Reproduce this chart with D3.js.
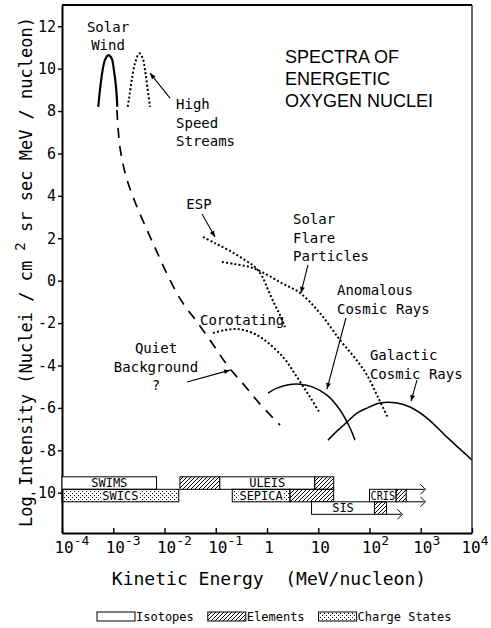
<!DOCTYPE html>
<html>
<head>
<meta charset="utf-8">
<script src="https://cdn.jsdelivr.net/npm/d3@7/dist/d3.min.js"></script>
<style>
  body { margin: 0; background: #fff; }
  svg { display: block; }
  text { font-family: "DejaVu Sans Mono", monospace; fill: #000; }
</style>
</head>
<body>
<div id="chart"></div>
<script>
// energy in MeV/nucleon, intensity as log10
const xTicks = [1e-4, 1e-3, 1e-2, 1e-1, 1, 10, 100, 1e3, 1e4];
const xTickBase = ["10", "10", "10", "10", "1", "10", "10", "10", "10"];
const xTickExp = ["-4", "-3", "-2", "-1", "", "", "2", "3", "4"];
const yTicks = [12, 10, 8, 6, 4, 2, 0, -2, -4, -6, -8, -10];

const swE = [5.1e-4, 5.5e-4, 6.2e-4, 6.9e-4, 8.0e-4, 9.3e-4, 1.03e-3, 1.13e-3, 1.2e-3];
const swI = [8.2, 8.99, 9.93, 10.41, 10.64, 10.49, 9.93, 9.15, 8.2];
const hssE = [1.91e-3, 2.06e-3, 2.29e-3, 2.66e-3, 3.22e-3, 3.76e-3, 4.17e-3, 4.62e-3, 5.21e-3];
const hssI = [8.2, 8.68, 9.46, 10.25, 10.72, 10.49, 9.93, 9.15, 8.2];
const quietE = [1.18e-3, 1.35e-3, 1.77e-3, 2.66e-3, 4.56e-3, 7.14e-3, 0.0117, 0.021, 0.0431, 0.0845, 0.173, 0.372, 0.73, 1.79];
const quietI = [8.05, 6.3, 4.93, 3.71, 2.39, 1.35, 0.22, -0.92, -1.95, -2.94, -4.03, -4.97, -5.82, -6.81];
const espE = [0.0564, 0.0966, 0.19, 0.372, 0.583, 0.798, 1.05, 1.43, 1.79, 2.24];
const espI = [2.06, 1.77, 1.4, 0.97, 0.64, 0.22, -0.44, -1.15, -1.62, -2.19];
const flareE = [0.132, 0.238, 0.466, 0.798, 1.79, 4.41, 10.8, 26.6, 52.1, 89.3, 146, 230];
const flareI = [0.88, 0.78, 0.64, 0.41, -0.07, -0.58, -1.53, -2.8, -3.65, -4.45, -5.49, -6.48];
const corotE = [0.0883, 0.151, 0.26, 0.466, 0.798, 2.05, 3.85, 6.9, 10.8];
const corotI = [-2.47, -2.33, -2.28, -2.42, -2.71, -3.6, -4.55, -5.49, -6.25];
const acrE = [1.05, 1.57, 2.46, 4.41, 7.9, 14.8, 26.6, 41.7, 52.1];
const acrI = [-5.3, -5.07, -4.92, -4.88, -5.02, -5.4, -6.1, -6.95, -7.52];
const gcrE = [15.5, 24.3, 36.4, 57, 89.3, 160, 344, 617, 1324, 3252, 10000];
const gcrI = [-7.52, -7.05, -6.67, -6.25, -6.01, -5.77, -5.77, -5.96, -6.48, -7.38, -8.46];

// annotations
const noteLines = [["Solar", "Wind"], ["High", "Speed", "Streams"], ["ESP"], ["Solar", "Flare", "Particles"],
  ["Anomalous", "Cosmic Rays"], ["Galactic", "Cosmic Rays"], ["Corotating"], ["Quiet", "Background", "?"]];
const noteE = [7.9e-4, 0.0168, 0.0471, 3.21, 23.2, 102, 0.0493, 6.83e-3];
const noteI = [11.73, 8.09, 3.38, 2.67, -0.68, -3.75, -2.09, -3.42];
const arrowFromE = [0.0128, 0.054, 6.31, 34.7, 845, 0.0275];
const arrowFromI = [8.61, 3.14, 0.74, -1.76, -4.69, -4.78];
const arrowToE = [5.21e-3, 0.0966, 4.6, 14.8, 646, 0.19];
const arrowToI = [9.79, 2.06, -0.58, -5.11, -5.68, -4.22];
const titleLines = ["SPECTRA OF", "ENERGETIC", "OXYGEN NUCLEI"];
const titleE = 2.24, titleI = 10.26;

// instruments: segments [from, to, kind]
const barNames = ["SWIMS", "ULEIS", "SWICS", "SEPICA", "CRIS", "SIS"];
const barRows = [0, 0, 1, 1, 1, 2];
const barSegments = [
  [[1e-4, 7.0e-3, "iso"]],
  [[0.02, 0.12, "elem"], [0.12, 8.5, "iso"], [8.5, 20, "elem"]],
  [[1e-4, 0.019, "charge"]],
  [[0.21, 2.8, "charge"], [2.8, 20, "elem"]],
  [[100, 330, "iso"], [330, 520, "elem"]],
  [[7.4, 125, "iso"], [125, 215, "elem"]]
];
const barLabelSeg = [0, 1, 0, 0, 0, 0];
const barExtendTo = [null, null, null, null, 1180, 420];
const barExtendEdges = [[], [], [], [], ["top", "bottom"], ["bottom"]];

const legendKinds = ["iso", "elem", "charge"];
const legendLabels = ["Isotopes", "Elements", "Charge States"];

const W = 491, H = 628;
const svg = d3.select("#chart").append("svg").attr("width", W).attr("height", H);

const x = d3.scaleLog().domain([1e-4, 1e4]).range([62, 472]);
const y = d3.scaleLinear().domain([-11.9, 13]).range([533, 5]);

const defs = svg.append("defs");
defs.append("pattern").attr("id", "hatch").attr("patternUnits", "userSpaceOnUse")
  .attr("width", 4).attr("height", 4)
  .append("path").attr("d", "M-1,1 l2,-2 M0,4 l4,-4 M3,5 l2,-2")
  .attr("stroke", "#000").attr("stroke-width", 1);
const dots = defs.append("pattern").attr("id", "dots").attr("patternUnits", "userSpaceOnUse")
  .attr("width", 4).attr("height", 4);
dots.append("rect").attr("x", 0).attr("y", 1).attr("width", 1).attr("height", 1).attr("fill", "#000");
dots.append("rect").attr("x", 2).attr("y", 3).attr("width", 1).attr("height", 1).attr("fill", "#000");
defs.append("marker").attr("id", "arrow").attr("viewBox", "0 0 10 10")
  .attr("refX", 10).attr("refY", 5).attr("markerWidth", 8).attr("markerHeight", 6)
  .attr("markerUnits", "userSpaceOnUse").attr("orient", "auto")
  .append("path").attr("d", "M0,1 L10,5 L0,9 Z").attr("fill", "#000");

const fillFor = { iso: "#fff", elem: "url(#hatch)", charge: "url(#dots)" };

// frame
svg.append("line").attr("x1", 62).attr("x2", 472).attr("y1", 5).attr("y2", 5)
  .attr("stroke", "#000").attr("stroke-width", 2);
svg.append("line").attr("x1", 472).attr("x2", 472).attr("y1", 5).attr("y2", 533)
  .attr("stroke", "#000").attr("stroke-width", 1.2);

// axes
const xAxis = svg.append("g").attr("transform", "translate(0,533)")
  .call(d3.axisBottom(x).tickValues(xTicks).tickSize(-5).tickSizeOuter(0).tickFormat(""));
xAxis.select(".domain").attr("stroke-width", 2);
xAxis.selectAll(".tick line").attr("stroke-width", 1.4);
xAxis.selectAll(".tick").each(function (d, i) {
  const t = d3.select(this).append("text").attr("y", 20).attr("text-anchor", "start")
    .attr("font-size", 16).attr("fill", "#000");
  t.append("tspan").text(xTickBase[i]);
  if (xTickExp[i]) t.append("tspan").attr("dy", -8).attr("font-size", 13).text(xTickExp[i]);
  const baseW = xTickBase[i].length * 16 * 0.602;
  let x0 = -baseW / 2 + 1.5;
  const total = t.node().getComputedTextLength();
  const right = x(d) + x0 + total;
  if (right > W - 3) x0 -= right - (W - 3);
  t.attr("x", x0);
});

const yAxis = svg.append("g").attr("transform", "translate(62,0)")
  .call(d3.axisLeft(y).tickValues(yTicks).tickSize(4).tickSizeOuter(0).tickPadding(2)
    .tickFormat(d => String(d)));
yAxis.select(".domain").attr("stroke-width", 2);
yAxis.selectAll("text").attr("font-size", 15).attr("font-family", "DejaVu Sans Mono");
yAxis.selectAll(".tick line").attr("stroke-width", 1.4);

// axis titles
svg.append("text").attr("x", 269).attr("y", 585).attr("text-anchor", "middle")
  .attr("font-size", 18).style("white-space", "pre").text("Kinetic Energy  (MeV/nucleon)");
const yt = svg.append("text").attr("transform", "translate(32,272) rotate(-90)")
  .attr("text-anchor", "middle").attr("font-size", 17).style("white-space", "pre");
yt.append("tspan").text("Log Intensity (Nuclei / cm ");
yt.append("tspan").attr("dy", -7).attr("font-size", 14).text("2");
yt.append("tspan").attr("dy", 7).text(" sr sec MeV / nucleon)");

// curves
const line = d3.line().x(d => x(d[0])).y(d => y(d[1])).curve(d3.curveCatmullRom.alpha(0.5));
const zip = (E, I) => E.map((e, i) => [e, I[i]]);
const curves = [
  { data: zip(swE, swI), w: 2.2, dash: null },
  { data: zip(hssE, hssI), w: 2, dash: "2,2.2" },
  { data: zip(quietE, quietI), w: 1.7, dash: "10,8" },
  { data: zip(espE, espI), w: 2, dash: "2,2.2" },
  { data: zip(flareE, flareI), w: 2, dash: "2,2.2" },
  { data: zip(corotE, corotI), w: 2, dash: "2,2.2" },
  { data: zip(acrE, acrI), w: 1.5, dash: null },
  { data: zip(gcrE, gcrI), w: 1.5, dash: null }
];
svg.append("g").selectAll("path").data(curves).join("path")
  .attr("d", d => line(d.data)).attr("fill", "none").attr("stroke", "#000")
  .attr("stroke-width", d => d.w).attr("stroke-dasharray", d => d.dash);

// annotations
const noteAnchor = ["middle", "start", "middle", "start", "start", "start", "start", "middle"];
noteLines.forEach((lines, i) => {
  const t = svg.append("text").attr("font-size", 14).attr("text-anchor", noteAnchor[i])
    .style("white-space", "pre");
  lines.forEach((s, j) => t.append("tspan").attr("x", x(noteE[i])).attr("y", y(noteI[i]) + j * 18.5).text(s));
});
arrowFromE.forEach((e, i) => {
  svg.append("line").attr("x1", x(e)).attr("y1", y(arrowFromI[i]))
    .attr("x2", x(arrowToE[i])).attr("y2", y(arrowToI[i]))
    .attr("stroke", "#000").attr("stroke-width", 1.1).attr("marker-end", "url(#arrow)");
});

const title = svg.append("text").attr("font-size", 18)
  .style("font-family", "'Liberation Sans', Arial, sans-serif");
titleLines.forEach((s, j) => title.append("tspan").attr("x", x(titleE)).attr("y", y(titleI) + j * 22).text(s));

// instrument bars
const rowH = 12.5;
const rowTop = r => y(-9.25) + r * rowH;
const bars = svg.append("g");
barNames.forEach((name, i) => {
  const top = rowTop(barRows[i]);
  const segs = barSegments[i];
  const last = segs[segs.length - 1][1];
  if (barExtendTo[i]) {
    barExtendEdges[i].forEach(edge => {
      const yy = edge === "top" ? top : top + rowH;
      bars.append("line").attr("x1", x(last)).attr("x2", x(barExtendTo[i]))
        .attr("y1", yy).attr("y2", yy).attr("stroke", "#000").attr("stroke-width", 1);
      const xe = x(barExtendTo[i]);
      bars.append("path").attr("d", `M${xe - 4},${yy - 5} L${xe + 1},${yy} L${xe - 4},${yy + 5}`)
        .attr("fill", "none").attr("stroke", "#000").attr("stroke-width", 1);
    });
  }
  segs.forEach(s => {
    bars.append("rect").attr("x", x(s[0])).attr("y", top).attr("width", x(s[1]) - x(s[0])).attr("height", rowH)
      .attr("fill", fillFor[s[2]]).attr("stroke", "#000").attr("stroke-width", 1);
  });
  const ls = segs[barLabelSeg[i]];
  const segW = x(ls[1]) - x(ls[0]);
  const cx = (x(ls[0]) + x(ls[1])) / 2;
  let tw = name.length * 12 * 0.602;
  if (ls[2] === "charge") {
    bars.append("rect").attr("x", cx - tw / 2 - 1).attr("y", top + 1).attr("width", tw + 2).attr("height", rowH - 2)
      .attr("fill", "#fff");
  }
  const lab = bars.append("text").attr("x", cx).attr("y", top + rowH - 2).attr("text-anchor", "middle")
    .attr("font-size", 12).text(name);
  if (tw > segW - 2) lab.attr("textLength", segW - 2).attr("lengthAdjust", "spacingAndGlyphs");
});

// legend
let lx = 97;
legendKinds.forEach((k, i) => {
  svg.append("rect").attr("x", lx).attr("y", 612).attr("width", 38).attr("height", 9)
    .attr("fill", fillFor[k]).attr("stroke", "#000").attr("stroke-width", 1);
  const t = svg.append("text").attr("x", lx + 39).attr("y", 621).attr("font-size", 12).text(legendLabels[i]);
  lx += 39 + t.node().getComputedTextLength() + 14;
});
</script>
</body>
</html>
